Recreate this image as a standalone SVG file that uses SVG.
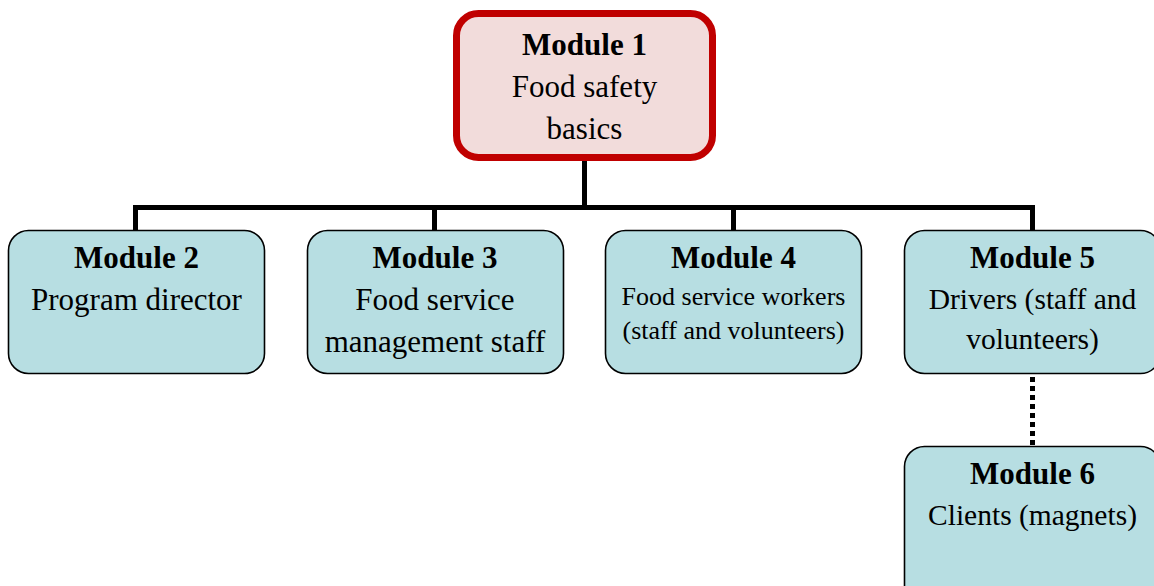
<svg xmlns="http://www.w3.org/2000/svg" width="1154" height="586" viewBox="0 0 1154 586">
<style>
.box{fill:#B7DEE2;stroke:#000;stroke-width:1.6}
.t{font-family:"Liberation Serif","Times New Roman",serif;fill:#000;text-anchor:middle}
.b{font-weight:bold}
.c{stroke:#000;stroke-width:5;fill:none}
</style>
<rect width="1154" height="586" fill="#fff"/>
<g id="connectors">
<path class="c" d="M584.5 160V207.5M133 207.5H1035M135.5 207.5V231M434.5 207.5V231M733.5 207.5V231M1032.5 207.5V231"/>
<path class="c" d="M1032.5 377V446" stroke-dasharray="5 4"/>
</g>
<g id="m1">
<rect x="456.5" y="13.5" width="256" height="144" rx="22" fill="#F2DCDB" stroke="#C00000" stroke-width="7"/>
<text class="t b" x="584.5" y="55" font-size="31">Module 1</text>
<text class="t" x="584.5" y="97" font-size="31">Food safety</text>
<text class="t" x="584.5" y="139" font-size="31">basics</text>
</g>
<g id="m2">
<rect class="box" x="8.5" y="230.5" width="256" height="143" rx="20"/>
<text class="t b" x="136.5" y="268" font-size="31">Module 2</text>
<text class="t" x="136.5" y="310" font-size="31">Program director</text>
</g>
<g id="m3">
<rect class="box" x="307.5" y="230.5" width="256" height="143" rx="20"/>
<text class="t b" x="435" y="268" font-size="31">Module 3</text>
<text class="t" x="435" y="310" font-size="31">Food service</text>
<text class="t" x="435" y="352" font-size="31">management staff</text>
</g>
<g id="m4">
<rect class="box" x="605.5" y="230.5" width="256" height="143" rx="20"/>
<text class="t b" x="733.5" y="268" font-size="31">Module 4</text>
<text class="t" x="733.5" y="305" font-size="26">Food service workers</text>
<text class="t" x="733.5" y="339" font-size="26">(staff and volunteers)</text>
</g>
<g id="m5">
<rect class="box" x="904.5" y="230.5" width="256" height="143" rx="20"/>
<text class="t b" x="1032.5" y="268" font-size="31">Module 5</text>
<text class="t" x="1032.5" y="309" font-size="29.5">Drivers (staff and</text>
<text class="t" x="1032.5" y="349" font-size="29.5">volunteers)</text>
</g>
<g id="m6">
<rect class="box" x="904.5" y="446.5" width="256" height="160" rx="20"/>
<text class="t b" x="1032.5" y="484" font-size="31">Module 6</text>
<text class="t" x="1032.5" y="525" font-size="29.5">Clients (magnets)</text>
</g>
</svg>
